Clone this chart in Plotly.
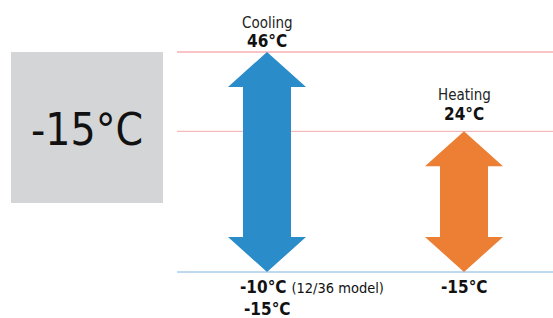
import plotly.graph_objects as go

# ---- data ----
modes = ["Cooling", "Heating"]
high_temps = [46, 24]
low_temps = [-15, -15]
low_labels = ["-10°C", "-15°C"]
low_notes = ["(12/36 model)", ""]
extra_low_label = "-15°C"
box_label = "-15°C"
colors = ["#2a8cc8", "#ec7f34"]
x_pos = [267, 464]

# label offsets (pixels above the top line) per column: value label, mode label
value_shift = [-1, 5]
mode_shift = [19, 20]

FONT = "DejaVu Sans Condensed, Liberation Sans Narrow, Noto Sans, sans-serif"

W, H = 553, 318
# temperature scale: 46 -> px 52, -15 -> px 272
px_per_deg = 220 / 61.0
y_top = 46 + 52 / px_per_deg
y_bot = -15 - (H - 272) / px_per_deg

head_len = 35 / px_per_deg
head_half = 39
shaft_half = 24

fig = go.Figure()

# reference lines
line_ref = [(high_temps[0], "#f28a8f"), (high_temps[1], "#f7a9ab"), (low_temps[0], "#7fb3df")]
for val, col in line_ref:
    fig.add_shape(type="line", xref="x", yref="y", x0=177, x1=W, y0=val, y1=val,
                  line=dict(color=col, width=1), layer="below")

# gray box
fig.add_shape(type="rect", xref="x", yref="y", x0=11, x1=163,
              y0=high_temps[0] - 151 / px_per_deg, y1=high_temps[0],
              fillcolor="#d4d5d7", line=dict(width=0), layer="below")

for xc, hi, lo, col in zip(x_pos, high_temps, low_temps, colors):
    xs = [xc, xc + head_half, xc + shaft_half, xc + shaft_half, xc + head_half, xc,
          xc - head_half, xc - shaft_half, xc - shaft_half, xc - head_half, xc]
    ys = [hi, hi - head_len, hi - head_len, lo + head_len, lo + head_len, lo,
          lo + head_len, lo + head_len, hi - head_len, hi - head_len, hi]
    fig.add_trace(go.Scatter(x=xs, y=ys, fill="toself", fillcolor=col, mode="none",
                             hoverinfo="skip", showlegend=False))

ann = []
for xc, hi, lo, mode, ll, note, vs, ms in zip(x_pos, high_temps, low_temps, modes,
                                              low_labels, low_notes, value_shift, mode_shift):
    ann.append(dict(x=xc, y=hi, yshift=vs, yanchor="bottom", xanchor="center", text=f"<b>{hi}°C</b>",
                    font=dict(size=17, color="#111"), showarrow=False))
    ann.append(dict(x=xc, y=hi, yshift=vs + ms, yanchor="bottom", xanchor="center", text=mode,
                    font=dict(size=15, color="#222"), showarrow=False))
    if note:
        ann.append(dict(x=xc - 29, y=lo, yshift=-3, yanchor="top", xanchor="left",
                        text=f"<b>{ll}</b> <span style='font-size:14.5px'>{note}</span>",
                        font=dict(size=17, color="#111"), showarrow=False))
    else:
        ann.append(dict(x=xc, y=lo, yshift=-3, yanchor="top", xanchor="center", text=f"<b>{ll}</b>",
                        font=dict(size=17, color="#111"), showarrow=False))

ann.append(dict(x=x_pos[0], y=low_temps[0], yshift=-25, yanchor="top", xanchor="center",
                text=f"<b>{extra_low_label}</b>", font=dict(size=17, color="#111"), showarrow=False))
ann.append(dict(x=87, y=high_temps[0] - 77 / px_per_deg, yanchor="middle", xanchor="center",
                text=box_label, font=dict(size=44, color="#111"), showarrow=False))

fig.update_layout(
    width=W, height=H, margin=dict(l=0, r=0, t=0, b=0),
    paper_bgcolor="white", plot_bgcolor="white",
    font=dict(family=FONT),
    xaxis=dict(range=[0, W], visible=False, fixedrange=True),
    yaxis=dict(range=[y_bot, y_top], visible=False, fixedrange=True),
    annotations=ann, showlegend=False,
)
fig.write_html("out.html", config={"displayModeBar": False},
               post_script="document.body.style.margin='0';document.body.style.overflow='hidden';")
